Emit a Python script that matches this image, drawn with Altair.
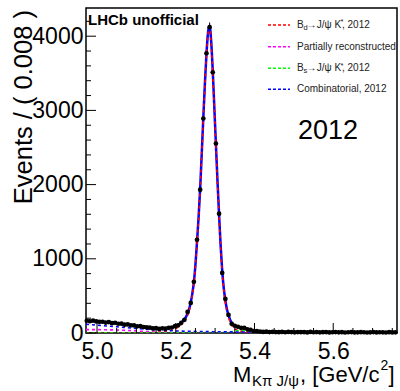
import altair as alt
import pandas as pd
import numpy as np

# ---------------- data ----------------
bin_low = 4.97
bin_width = 0.008
counts = [165, 158, 168, 156, 150, 152, 140, 147, 133, 138,
          125, 126, 112, 116, 104, 102, 90, 92, 80, 76,
          72, 62, 66, 55, 63, 58, 70, 74, 92, 104,
          138, 178, 284, 405, 690, 1257, 1932, 2891, 3770, 4121,
          3513, 2554, 1608, 810, 459, 243, 125, 98, 84, 70,
          68, 50, 44, 27, 24, 20, 15, 18, 12, 16,
          13, 11, 15, 10, 14, 12, 9, 13, 11, 12,
          8, 14, 10, 12, 9, 11, 13, 8, 10, 12,
          9, 11, 7, 10, 12, 8, 9, 11, 10, 7,
          9, 12, 8, 10, 9, 7, 11, 8, 9]

fine_x = [5.198, 5.202, 5.206, 5.210, 5.214, 5.218, 5.222, 5.226, 5.230, 5.234,
          5.238, 5.242, 5.246, 5.250, 5.254, 5.258, 5.262, 5.266, 5.270, 5.274,
          5.278, 5.282, 5.286, 5.290, 5.294, 5.298, 5.302, 5.306, 5.310, 5.314,
          5.318, 5.322, 5.326, 5.330, 5.334, 5.338, 5.342, 5.346, 5.350, 5.354,
          5.358, 5.362, 5.366, 5.370, 5.374, 5.378, 5.382, 5.386, 5.390, 5.394,
          5.398, 5.402]

total_x = [4.972, 4.99, 5.01, 5.03, 5.05, 5.07, 5.09, 5.11, 5.13, 5.15, 5.16, 5.17, 5.18, 5.19] \
    + fine_x + [5.41, 5.42, 5.44, 5.46, 5.50, 5.55, 5.60, 5.65, 5.70, 5.762]
total_y = [166, 160, 151, 141, 130, 118, 104, 89, 74, 63, 60, 61, 66, 76,
           88, 96, 108, 122, 140, 160, 185, 218, 262, 322,
           410, 528, 685, 920, 1230, 1560, 1950, 2420, 2900, 3360,
           3760, 4050, 4140, 3930, 3530, 3040, 2540, 2050, 1600, 1180,
           840, 600, 440, 320, 240, 180, 140, 112, 96, 86,
           80, 76, 73, 70, 65, 59, 52, 46, 40, 34, 29, 25,
           21, 18, 15, 13.5, 12.5, 11.5, 10.5, 10, 9.5, 9]

sig_x = [4.972, 5.05, 5.10, 5.13, 5.15, 5.17, 5.19] + fine_x + [5.42, 5.46, 5.50, 5.60, 5.762]
sig_y = [1, 2, 4, 7, 11, 19, 40,
         59, 68, 81, 95, 114, 134, 160, 193, 238, 298,
         387, 505, 663, 898, 1209, 1539, 1929, 2400, 2880, 3340,
         3741, 4031, 4121, 3911, 3511, 3021, 2522, 2032, 1582, 1162,
         820, 580, 419, 297, 214, 151, 107, 76, 56, 43,
         36, 29, 25, 23, 20, 17, 14, 12, 10, 8.5, 6.5, 5.5,
         3, 1.5, 1, 0.5, 0.2]

part_x = [4.972, 5.0, 5.03, 5.06, 5.09, 5.11, 5.13, 5.15, 5.17, 5.19, 5.21, 5.25, 5.762]
part_y = [45, 45, 43, 38, 31, 24, 17, 10, 4, 1, 0, 0, 0]

bs_x = [4.972, 5.30, 5.32, 5.33, 5.34, 5.35, 5.36, 5.366, 5.37, 5.38, 5.39, 5.40, 5.41, 5.42, 5.44, 5.762]
bs_y = [0, 0, 3, 8, 16, 26, 33, 35, 34, 28, 18, 10, 5, 2, 0.5, 0]

comb_x = [4.972, 5.0, 5.05, 5.1, 5.15, 5.2, 5.25, 5.3, 5.35, 5.4, 5.5, 5.6, 5.7, 5.762]
comb_y = [118, 105, 84, 62, 40, 28, 21, 17, 14, 12.5, 11, 10, 9, 8.5]

x_ticks_major = [5.0, 5.2, 5.4, 5.6]
x_ticks_minor = [5.05, 5.1, 5.15, 5.25, 5.3, 5.35, 5.45, 5.5, 5.55, 5.65, 5.7, 5.75]
y_ticks_major = [0, 1000, 2000, 3000, 4000]
y_ticks_minor = [200, 400, 600, 800, 1200, 1400, 1600, 1800, 2200, 2400, 2600, 2800,
                 3200, 3400, 3600, 3800, 4200]

x_min, x_max = 4.972, 5.762
y_max = 4380
W, H = 311, 325
FONT = "Liberation Sans"

# ---------------- frames ----------------
n = np.array(counts, dtype=float)
centers = bin_low + bin_width * (np.arange(len(counts)) + 0.5)
err = np.sqrt(n)
data_df = pd.DataFrame({"m": centers, "n": n, "lo": n - err, "hi": n + err,
                        "xl": centers - bin_width / 2, "xr": centers + bin_width / 2})

xs = alt.Scale(domain=[x_min, x_max], nice=False, zero=False)
ys = alt.Scale(domain=[0, y_max], nice=False, zero=True)

x_axis = alt.Axis(values=x_ticks_major, format=".1f", labelFontSize=23, labelFont=FONT,
                  labelColor="black", ticks=False, domain=False, grid=False,
                  labelPadding=7, labelFlush=False, labelOverlap=False, title=None)
y_axis = alt.Axis(values=y_ticks_major, format="d", labelFontSize=23, labelFont=FONT,
                  labelColor="black", ticks=False, domain=False, grid=False,
                  labelPadding=3, labelOverlap=False, title=None)


def X(f):
    return alt.X(f, type="quantitative", scale=xs, axis=x_axis, title=None)


def Y(f):
    return alt.Y(f, type="quantitative", scale=ys, axis=y_axis, title=None)


err_v = alt.Chart(data_df).mark_rule(color="black", strokeWidth=1).encode(
    x=X("m"), y=Y("lo"), y2="hi")
err_h = alt.Chart(data_df).mark_rule(color="black", strokeWidth=1).encode(
    x=X("xl"), x2="xr", y=Y("n"))
pts = alt.Chart(data_df).mark_circle(color="black", size=22, opacity=1).encode(
    x=X("m"), y=Y("n"))


def curve(xv, yv, color, dash=None, width=2.0):
    df = pd.DataFrame({"cx": xv, "cy": yv})
    kw = dict(color=color, strokeWidth=width, interpolate="monotone", clip=True)
    if dash is not None:
        kw["strokeDash"] = dash
    return alt.Chart(df).mark_line(**kw).encode(x=X("cx"), y=Y("cy"), order="cx:Q")


total = curve(total_x, total_y, "#0000ff", None, 2.5)
sig = curve(sig_x, sig_y, "#ff0000", [3, 3], 1.6)
part = curve(part_x, part_y, "#ff00ff", [3, 3], 1.6)
bs = curve(bs_x, bs_y, "#00ff00", [3, 3], 1.6)
comb = curve(comb_x, comb_y, "#0000ff", [3, 3], 1.6)


def xtick(vals, length):
    return alt.Chart(pd.DataFrame({"v": vals})).mark_rule(color="black", strokeWidth=1).encode(
        x=X("v"), y=alt.value(H), y2=alt.value(H - length))


def ytick(vals, length):
    return alt.Chart(pd.DataFrame({"v": vals})).mark_rule(color="black", strokeWidth=1).encode(
        y=Y("v"), x=alt.value(0), x2=alt.value(length))


ticks = [xtick(x_ticks_major, 10), xtick(x_ticks_minor, 5),
         ytick(y_ticks_major, 10), ytick(y_ticks_minor, 5)]

one = pd.DataFrame({"a": [0]})


def txt(t, x, y, size, **kw):
    params = dict(text=t, fontSize=size, font=FONT, align="left", baseline="alphabetic",
                  color="black")
    params.update(kw)
    return alt.Chart(one).mark_text(**params).encode(x=alt.value(x), y=alt.value(y))


texts = [
    txt("LHCb unofficial", 2, 17, 15, fontWeight="bold"),
    txt("2012", 212, 131, 27),
    txt("Events / ( 0.008 )", -54, 2, 25.5, angle=270, align="right"),
    # x title
    txt("M", 147, 373.7, 22),
    txt("Kπ J/ψ", 166, 377.5, 15),
    txt(", [GeV/c", 214, 373.7, 22),
    txt("2", 294.5, 362, 14),
    txt("]", 302.5, 373.7, 22),
]

# legend
leg_colors = ["#ff0000", "#ff00ff", "#00ff00", "#0000ff"]
leg_line_y = [17, 38.7, 60.3, 81.3]
leg_base_y = [19.5, 41.5, 63, 84.3]
legend = []
for c, ly in zip(leg_colors, leg_line_y):
    legend.append(alt.Chart(one).mark_rule(color=c, strokeDash=[3, 2], strokeWidth=1.5).encode(
        x=alt.value(182), x2=alt.value(204), y=alt.value(ly)))
LC = "#222222"
for i, sub in [(0, "d"), (2, "s")]:
    b = leg_base_y[i]
    legend += [
        txt("B", 211, b, 10, color=LC),
        txt(sub, 217.5, b + 2, 7.5, color=LC),
        txt("→", 220.5, b, 10, color=LC),
        txt("J/ψ K", 230.7, b, 10, color=LC),
        txt("*", 254.5, b - 3.5, 7.5, color=LC),
        txt(", 2012", 256, b, 10, color=LC),
    ]
legend.append(txt("Partially reconstructed", 211, leg_base_y[1], 10, color=LC))
legend.append(txt("Combinatorial, 2012", 211, leg_base_y[3], 10, color=LC))

chart = alt.layer(
    err_v, err_h, total, sig, part, bs, comb, pts, *ticks, *texts, *legend
).properties(
    width=W, height=H,
    padding={"left": 86, "top": 8, "right": 3, "bottom": 58},
    autosize=alt.AutoSizeParams(type="none"),
    background="white",
).configure_view(stroke="black", strokeWidth=1.5)

chart.save("out.html", embed_options={"renderer": "svg", "actions": False})
